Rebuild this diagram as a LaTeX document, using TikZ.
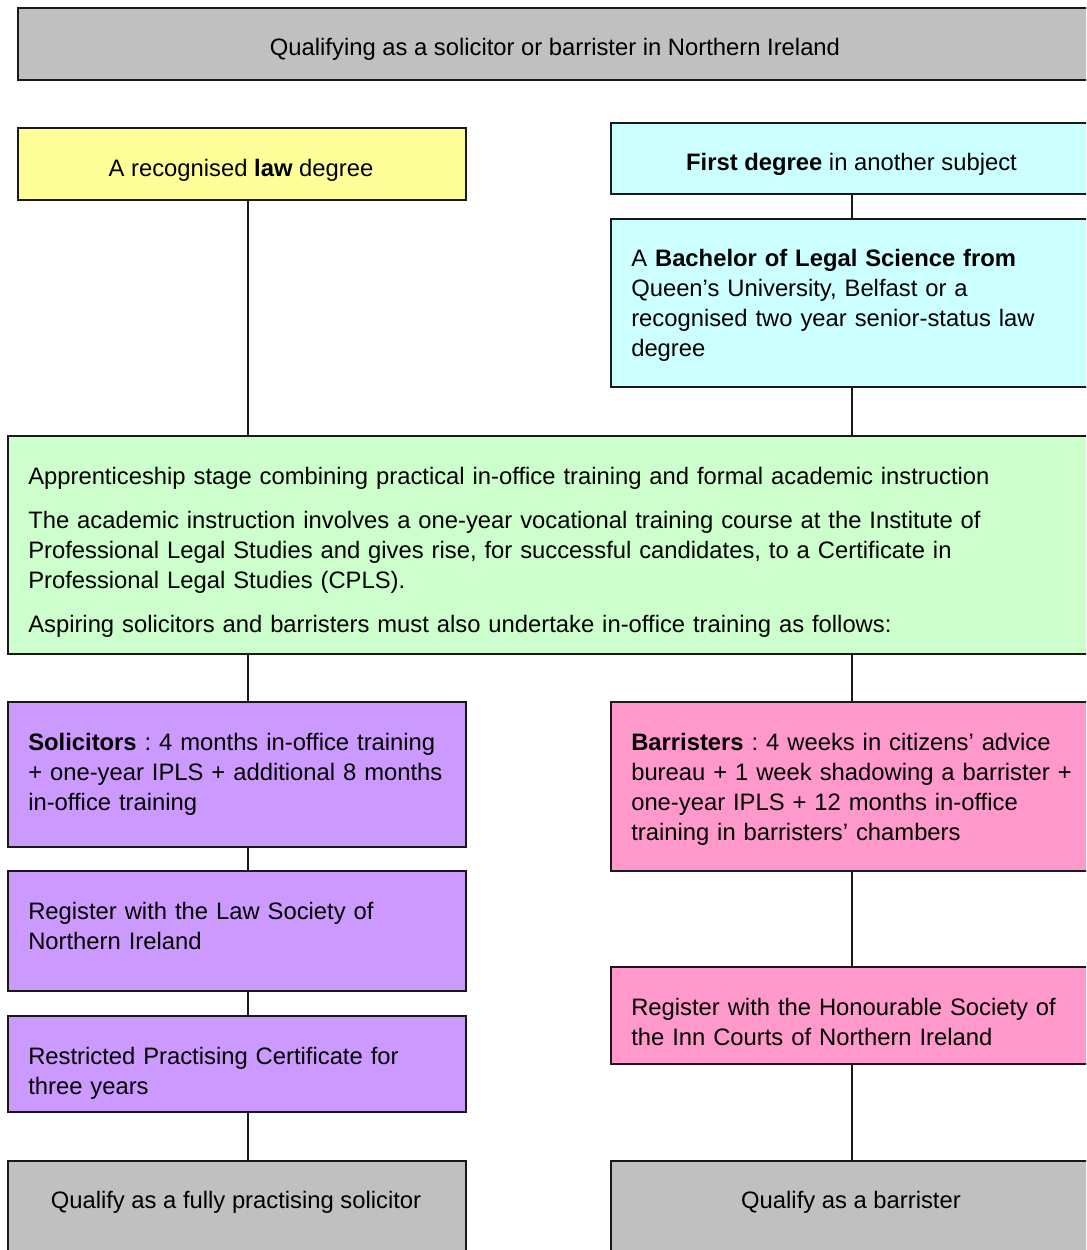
\documentclass[tikz,border=0pt]{standalone}
\usepackage{fontspec}
\setmainfont{Liberation Sans}
\definecolor{cgray}{HTML}{C0C0C0}
\definecolor{cyellow}{HTML}{FFFF99}
\definecolor{ccyan}{HTML}{CCFFFF}
\definecolor{cgreen}{HTML}{CCFFCC}
\definecolor{cpurple}{HTML}{CC99FF}
\definecolor{cpink}{HTML}{FF99CC}
\begin{document}
\frenchspacing
\begin{tikzpicture}[x=0.75pt,y=-0.75pt,
  box/.style={draw=black!90, line width=1.5pt, inner sep=0pt, anchor=north west},
  link/.style={draw=black!90, line width=1.5pt},
  txt/.style={inner sep=0pt, font=\fontsize{17.85}{22.5}\selectfont, anchor=base},
  ptxt/.style={inner sep=0pt, font=\fontsize{17.85}{22.5}\selectfont, anchor=base west, align=left, text width=#1},
  ptxt/.default=450pt]
\useasboundingbox (0,0) rectangle (1086,1250);
\clip (0,0) rectangle (1086,1250);
% boxes
\node[box, fill=cgray, minimum width=807pt, minimum height=54pt] (title) at (17,7) {};
\node[box, fill=cyellow, minimum width=336pt, minimum height=54pt] (law) at (17,127) {};
\node[box, fill=ccyan, minimum width=362.25pt, minimum height=53.25pt] (first) at (610,122) {};
\node[box, fill=ccyan, minimum width=362.25pt, minimum height=126pt] (bls) at (610,218) {};
\node[box, fill=cgreen, minimum width=814.5pt, minimum height=163.5pt] (appr) at (7,435) {};
\node[box, fill=cpurple, minimum width=343.5pt, minimum height=108.75pt] (sol) at (7,701) {};
\node[box, fill=cpink, minimum width=362.25pt, minimum height=126.75pt] (bar) at (610,701) {};
\node[box, fill=cpurple, minimum width=343.5pt, minimum height=90pt] (regsol) at (7,870) {};
\node[box, fill=cpink, minimum width=362.25pt, minimum height=72.75pt] (regbar) at (610,966) {};
\node[box, fill=cpurple, minimum width=343.5pt, minimum height=72pt] (restr) at (7,1015) {};
\node[box, fill=cgray, minimum width=343.5pt, minimum height=75pt] (qsol) at (7,1160) {};
\node[box, fill=cgray, minimum width=362.25pt, minimum height=75pt] (qbar) at (610,1160) {};
% texts
\node[txt] (ttitle) at (555,55) {Qualifying as a solicitor or barrister in Northern Ireland};
\node[txt] (tlaw) at (241,176) {A recognised \textbf{law} degree};
\node[txt] (tfirst) at (851.5,170) {\textbf{First degree} in another subject};
\node[ptxt] (tbls) at (631,266) {A \textbf{Bachelor of Legal Science from}\\ Queen’s University, Belfast or a\\ recognised two year senior-status law\\ degree};
\node[ptxt=790pt] (tappr) at (28,484) {Apprenticeship stage combining practical in-office training and formal academic instruction\\[10.5pt]
The academic instruction involves a one-year vocational training course at the Institute of\\
Professional Legal Studies and gives rise, for successful candidates, to a Certificate in\\
Professional Legal Studies (CPLS).\\[10.5pt]
Aspiring solicitors and barristers must also undertake in-office training as follows:};
\node[ptxt] (tsol) at (28,750) {\textbf{Solicitors} : 4 months in-office training\\ + one-year IPLS + additional 8 months\\ in-office training};
\node[ptxt] (tbar) at (631,750) {\textbf{Barristers} : 4 weeks in citizens’ advice\\ bureau + 1 week shadowing a barrister +\\ one-year IPLS + 12 months in-office\\ training in barristers’ chambers};
\node[ptxt] (tregsol) at (28,919) {Register with the Law Society of\\ Northern Ireland};
\node[ptxt] (tregbar) at (631,1015) {Register with the Honourable Society of\\ the Inn Courts of Northern Ireland};
\node[ptxt] (trestr) at (28,1064) {Restricted Practising Certificate for\\ three years};
\node[txt] (tqsol) at (236,1208) {Qualify as a fully practising solicitor};
\node[txt] (tqbar) at (851,1208) {Qualify as a barrister};
% connector columns
\coordinate (lx) at (248,0);
\coordinate (rx) at (851.5,0);
\draw[link] (law.south -| lx) -- (appr.north -| lx);
\draw[link] (first.south -| rx) -- (bls.north -| rx);
\draw[link] (bls.south -| rx) -- (appr.north -| rx);
\draw[link] (appr.south -| lx) -- (sol.north -| lx);
\draw[link] (appr.south -| rx) -- (bar.north -| rx);
\draw[link] (sol.south -| lx) -- (regsol.north -| lx);
\draw[link] (regsol.south -| lx) -- (restr.north -| lx);
\draw[link] (restr.south -| lx) -- (qsol.north -| lx);
\draw[link] (bar.south -| rx) -- (regbar.north -| rx);
\draw[link] (regbar.south -| rx) -- (qbar.north -| rx);
\end{tikzpicture}
\end{document}
